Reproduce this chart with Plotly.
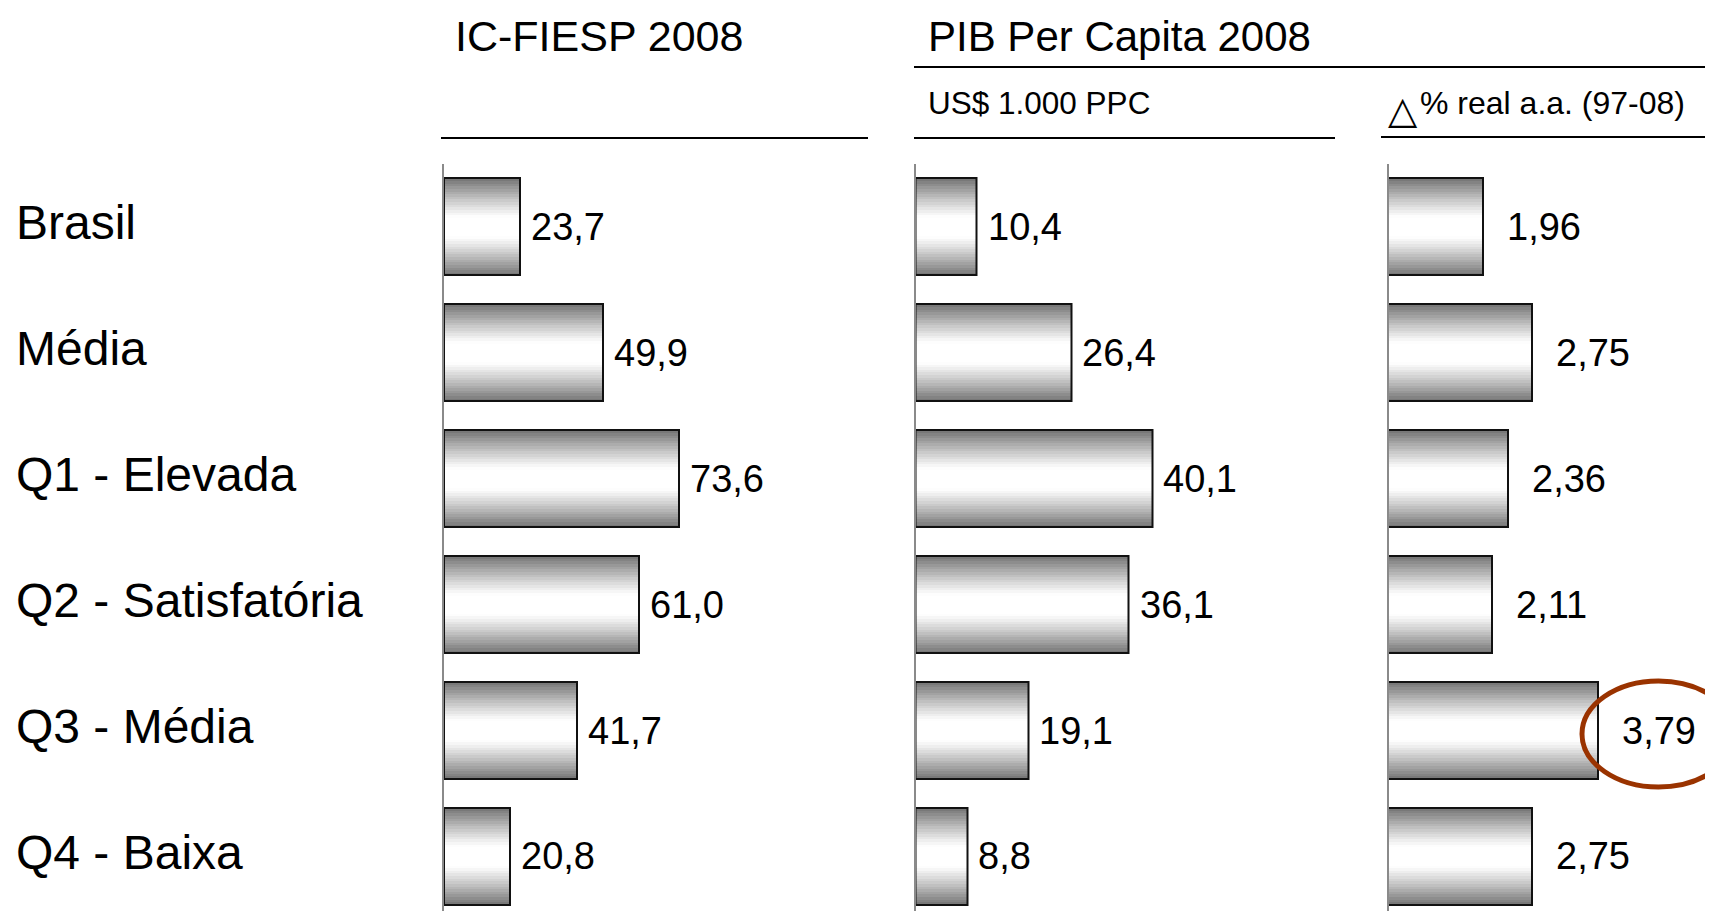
import plotly.graph_objects as go

# ---------------- data ----------------
categories = ["Brasil", "Média", "Q1 - Elevada", "Q2 - Satisfatória", "Q3 - Média", "Q4 - Baixa"]
ic_fiesp_2008 = [23.7, 49.9, 73.6, 61.0, 41.7, 20.8]
pib_pc_2008 = [10.4, 26.4, 40.1, 36.1, 19.1, 8.8]
pib_growth_97_08 = [1.96, 2.75, 2.36, 2.11, 3.79, 2.75]

titles = {"ic": "IC-FIESP 2008", "pib": "PIB Per Capita 2008"}
sub_pib = "US$ 1.000 PPC"
sub_growth = "% real a.a. (97-08)"
delta_symbol = "△"

# page offset (browser body margin) and figure size
OFF = 8
W, H = 1713 - OFF, 911 - OFF
FONT = "Arial, 'Liberation Sans', Helvetica, sans-serif"


def px(x):
    return (x - OFF) / W


def py(y):
    return 1 - (y - OFF) / H


fig = go.Figure()

panels = [
    # (values, xaxis id, yaxis id, decimals, label shift px)
    (ic_fiesp_2008, "x", "y", 1, 9),
    (pib_pc_2008, "x2", "y2", 1, 9),
    (pib_growth_97_08, "x3", "y3", 2, 22),
]

BAR_W = 0.77
N_LAYERS = 18
for vals, xa, ya, dec, shift in panels:
    # gradient made of overlaid, progressively thinner & lighter bars
    for i in range(N_LAYERS):
        f = 1.0 - i * (0.92 / (N_LAYERS - 1))
        t = max(0.0, (f - 0.22) / 0.78)
        g = int(round(255 - 135 * t ** 1.15))
        fig.add_trace(go.Bar(
            x=vals, y=categories, orientation="h",
            width=BAR_W * f,
            marker=dict(color=f"rgb({g},{g},{g})", line=dict(width=0)),
            xaxis=xa, yaxis=ya, hoverinfo="skip", showlegend=False,
        ))
    # outline on top
    fig.add_trace(go.Bar(
        x=vals, y=categories, orientation="h", width=BAR_W,
        marker=dict(color="rgba(0,0,0,0)", line=dict(color="#111111", width=2)),
        xaxis=xa, yaxis=ya, hoverinfo="skip", showlegend=False,
    ))
    for c, v in zip(categories, vals):
        fig.add_annotation(
            x=v, y=c, xref=xa, yref=ya, xanchor="left", yanchor="middle",
            xshift=shift, showarrow=False,
            text=f"{v:.{dec}f}".replace(".", ","),
            font=dict(family=FONT, size=38, color="black"),
        )

# category labels (left)
for c in categories:
    fig.add_annotation(
        x=px(14), y=c, xref="paper", yref="y", xanchor="left", yanchor="middle",
        yshift=4, showarrow=False, text=c,
        font=dict(family=FONT, size=48, color="black"),
    )

# headers
hdrs = [
    (titles["ic"], 453, 36, 43),
    (titles["pib"], 926, 36, 42),
    (sub_pib, 926, 103, 31.5),
    (sub_growth, 1418, 103, 32),
]
for txt, x0, y0, s in hdrs:
    fig.add_annotation(
        x=px(x0), y=py(y0), xref="paper", yref="paper", xanchor="left", yanchor="middle",
        showarrow=False, text=txt, font=dict(family=FONT, size=s, color="black"),
    )
fig.add_annotation(
    x=px(1403), y=py(110), xref="paper", yref="paper", xanchor="center", yanchor="middle",
    showarrow=False, text=delta_symbol, font=dict(family="DejaVu Sans", size=38, color="black"),
)

# header rules
rules = [
    (441, 868, 138),
    (914, 1713, 67),
    (914, 1335, 138),
    (1381, 1713, 137),
]
for x0, x1, y0 in rules:
    fig.add_shape(type="line", xref="paper", yref="paper",
                  x0=px(x0), x1=px(x1), y0=py(y0), y1=py(y0),
                  line=dict(color="black", width=2))

# highlight ellipse around the Q3 growth value
fig.add_shape(type="circle", xref="paper", yref="paper",
              x0=px(1582), x1=px(1735), y0=py(787), y1=py(681),
              line=dict(color="#9a3300", width=5))

ytop = 164
ydom = [0, py(ytop)]
yrange = [5.433, -0.5]
xdefs = [
    ("xaxis", [444, 868], [0, 132.9]),
    ("xaxis2", [915.5, 1335], [0, 71.0]),
    ("xaxis3", [1389, 1713], [0.462, 0.462 + 324 / 62.7]),
]
layout_axes = {}
for i, (name, dom, rng) in enumerate(xdefs):
    yname = "yaxis" if i == 0 else f"yaxis{i + 1}"
    xanchor_id = "x" if i == 0 else f"x{i + 1}"
    yanchor_id = "y" if i == 0 else f"y{i + 1}"
    layout_axes[name] = dict(domain=[px(dom[0]), min(1.0, px(dom[1]))], range=rng,
                             visible=False, fixedrange=True, anchor=yanchor_id)
    layout_axes[yname] = dict(domain=ydom, range=yrange, type="category",
                              categoryorder="array", categoryarray=categories,
                              showticklabels=False, ticks="", showgrid=False,
                              zeroline=False, showline=True, linecolor="#8a8a8a",
                              linewidth=2, anchor=xanchor_id, fixedrange=True)

fig.update_layout(
    width=W, height=H,
    margin=dict(l=0, r=0, t=0, b=0),
    paper_bgcolor="white", plot_bgcolor="white",
    barmode="overlay", bargap=0,
    showlegend=False,
    **layout_axes,
)

fig.write_html("out.html")
